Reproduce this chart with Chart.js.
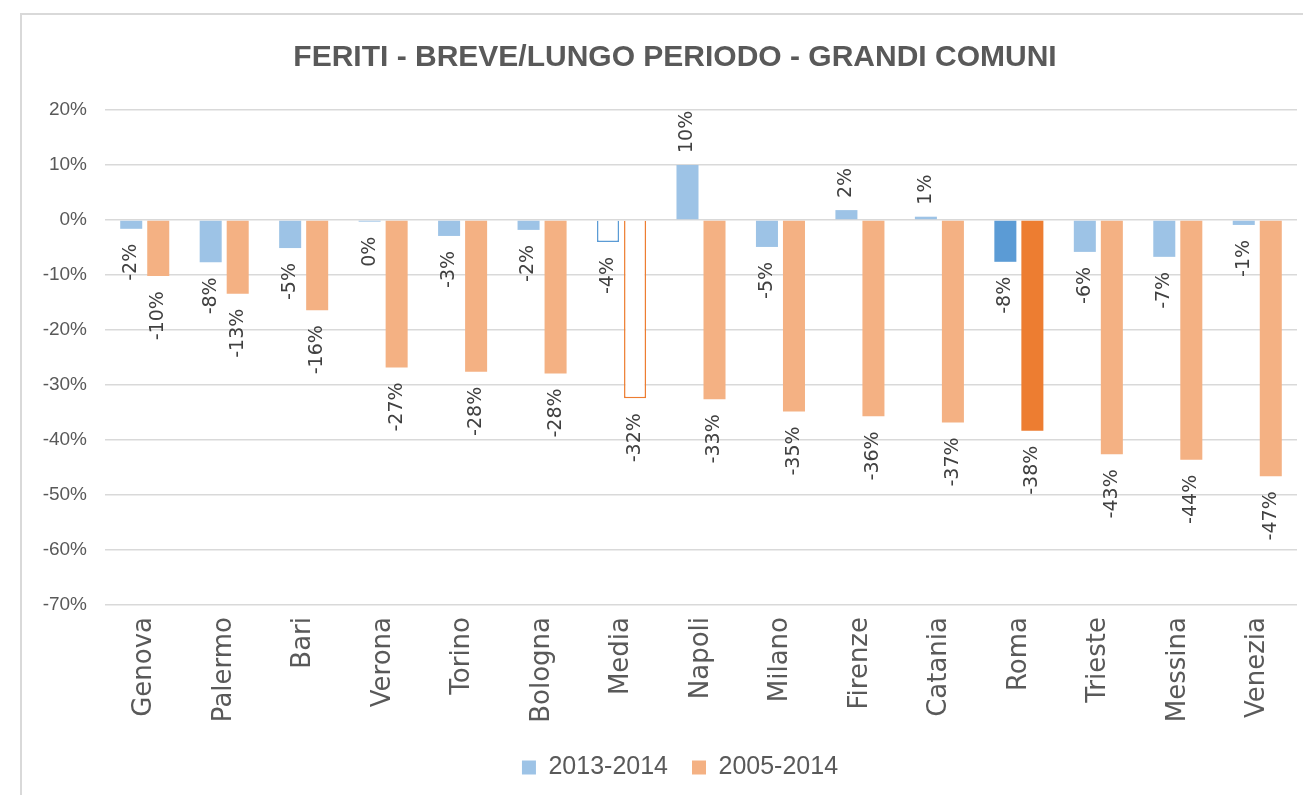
<!DOCTYPE html>
<html>
<head>
<meta charset="utf-8">
<script src="https://cdn.jsdelivr.net/npm/chart.js@4"></script>
<style>
  html, body { margin: 0; padding: 0; background: #fff; overflow: hidden; }
  #frame {
    position: absolute; left: 20px; top: 13px;
    width: 1320px; height: 800px;
    border: 2px solid #d9d9d9;
  }
</style>
</head>
<body>
<div id="frame"><canvas id="grafico" width="1320" height="800"></canvas></div>
<script>
// dati
const comuni = ['Genova', 'Palermo', 'Bari', 'Verona', 'Torino', 'Bologna', 'Media', 'Napoli',
  'Milano', 'Firenze', 'Catania', 'Roma', 'Trieste', 'Messina', 'Venezia'];
const breve = [-1.6, -7.7, -5.1, -0.3, -2.9, -1.8, -4.0, 10.0, -4.9, 1.8, 0.6, -7.6, -5.8, -6.7, -0.9];
const lungo = [-10.2, -13.4, -16.4, -26.8, -27.6, -27.9, -32.4, -32.6, -34.8, -35.7, -36.8, -38.3, -42.6, -43.6, -46.6];
const serie = ['2013-2014', '2005-2014'];
const yMin = -70, yMax = 20, yStep = 10;

const grigio = '#595959';
const testo = '"DejaVu Sans", "Liberation Sans", sans-serif';

// colore della barra: Media vuota, Roma più scura
function colore(chiaro, scuro) {
  return ctx => {
    const c = comuni[ctx.dataIndex];
    if (c === 'Media') return '#ffffff';
    if (c === 'Roma') return scuro;
    return chiaro;
  };
}
const spessore = ctx => comuni[ctx.dataIndex] === 'Media' ? 1.5 : 0;

// etichette ruotate sulle barre
const etichette = {
  id: 'etichette',
  afterDatasetsDraw(chart) {
    const ctx = chart.ctx;
    ctx.save();
    ctx.fillStyle = '#404040';
    ctx.font = '19px ' + testo;
    ctx.textBaseline = 'middle';
    chart.data.datasets.forEach((ds, i) => {
      chart.getDatasetMeta(i).data.forEach((bar, j) => {
        const v = ds.data[j];
        const txt = Math.round(v) + '%';
        ctx.save();
        if (v >= 0) {
          ctx.translate(bar.x, bar.y - 12);
          ctx.rotate(-Math.PI / 2);
          ctx.textAlign = 'left';
        } else {
          ctx.translate(bar.x, bar.y + 15);
          ctx.rotate(-Math.PI / 2);
          ctx.textAlign = 'right';
        }
        ctx.fillText(txt, 0, 0);
        ctx.restore();
      });
    });
    ctx.restore();
  }
};

// titolo e legenda centrati sulla cornice, non sull'area del grafico
const centra = {
  id: 'centra',
  afterLayout(chart) {
    chart.titleBlock.right += 31;
    chart.legend.right += 41;
  }
};

new Chart(document.getElementById('grafico'), {
  type: 'bar',
  data: {
    labels: comuni,
    datasets: [
      {
        label: serie[0], data: breve,
        backgroundColor: colore('#9dc3e6', '#5b9bd5'),
        borderColor: '#5b9bd5', borderWidth: spessore
      },
      {
        label: serie[1], data: lungo,
        backgroundColor: colore('#f4b183', '#ed7d31'),
        borderColor: '#ed7d31', borderWidth: spessore
      }
    ]
  },
  options: {
    responsive: false,
    animation: false,
    layout: { padding: { left: 0, right: 45, top: 0, bottom: 25 } },
    categoryPercentage: 0.68,
    barPercentage: 0.815,
    scales: {
      x: {
        grid: { display: false },
        border: { display: false },
        ticks: {
          color: grigio, font: { family: testo, size: 26 },
          minRotation: 90, maxRotation: 90, padding: 4, autoSkip: false
        },
        afterFit(s) { s.height = 126; }
      },
      y: {
        min: yMin, max: yMax,
        grid: { color: '#d9d9d9', lineWidth: 1.5, drawTicks: false },
        border: { display: false },
        ticks: {
          stepSize: yStep, color: grigio, padding: 18,
          font: { family: '"Liberation Sans", sans-serif', size: 19 },
          callback: v => v + '%'
        },
        afterFit(s) { s.width = 83; }
      }
    },
    plugins: {
      title: {
        display: true,
        text: 'FERITI - BREVE/LUNGO PERIODO - GRANDI COMUNI',
        color: grigio,
        font: { family: '"Liberation Sans", sans-serif', size: 30, weight: 'bold' },
        padding: { top: 25, bottom: 34 }
      },
      legend: {
        position: 'bottom',
        labels: {
          boxWidth: 14, boxHeight: 14, padding: 24, color: grigio,
          font: { family: '"Liberation Sans", sans-serif', size: 25 }
        }
      },
      tooltip: { enabled: false }
    }
  },
  plugins: [etichette, centra]
});
</script>
</body>
</html>
